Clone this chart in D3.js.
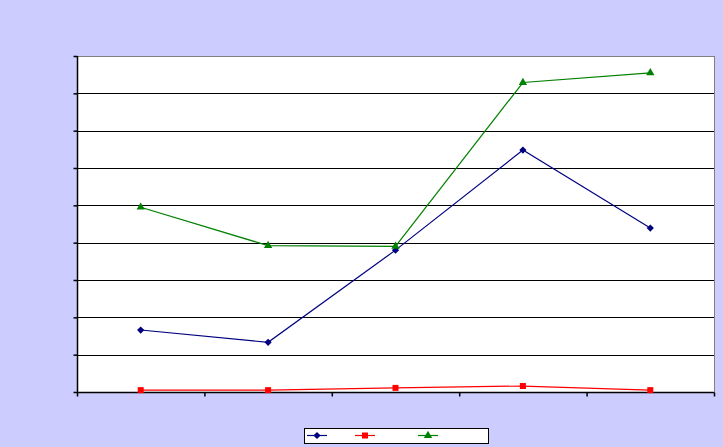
<!DOCTYPE html>
<html>
<head>
<meta charset="utf-8">
<script src="https://cdn.jsdelivr.net/npm/d3@7"></script>
<style>
  html, body { margin: 0; padding: 0; background: #CCCCFF; }
  svg { display: block; }
</style>
</head>
<body>
<svg id="chart"></svg>
<script>
// Chart data (no text labels are shown in the reference)
const categories = ["1", "2", "3", "4", "5"];
const seriesBlue = [1.66, 1.33, 3.80, 6.48, 4.39];
const seriesRed = [0.05, 0.05, 0.11, 0.16, 0.05];
const seriesGreen = [4.95, 3.92, 3.90, 8.29, 8.55];
const yTicks = [0, 1, 2, 3, 4, 5, 6, 7, 8, 9];

const width = 723, height = 447;
const plot = { left: 77, top: 56, right: 714, bottom: 392 };

const svg = d3.select("#chart")
    .attr("width", width)
    .attr("height", height);

svg.append("rect")
    .attr("width", width)
    .attr("height", height)
    .attr("fill", "#CCCCFF");

const xScale = d3.scaleLinear()
    .domain([0, categories.length])
    .range([plot.left, plot.right]);

const yScale = d3.scaleLinear()
    .domain([0, 9])
    .range([plot.bottom, plot.top]);

// Plot area
svg.append("rect")
    .attr("x", plot.left)
    .attr("y", plot.top)
    .attr("width", plot.right - plot.left)
    .attr("height", plot.bottom - plot.top)
    .attr("fill", "#FFFFFF")
    .attr("stroke", "#808080")
    .attr("stroke-width", 1)
    .attr("shape-rendering", "crispEdges");

// Gridlines
svg.append("g")
    .selectAll("line")
    .data(yTicks.filter(t => t > 0 && t < 9))
    .join("line")
    .attr("x1", plot.left)
    .attr("x2", plot.right)
    .attr("y1", d => Math.round(yScale(d)) + 0.5)
    .attr("y2", d => Math.round(yScale(d)) + 0.5)
    .attr("stroke", "#000")
    .attr("stroke-width", 1);

// Axes
const yAxis = d3.axisLeft(yScale)
    .tickValues(yTicks)
    .tickSize(4)
    .tickFormat("");
const yG = svg.append("g")
    .attr("transform", `translate(${plot.left + 0.5},0)`)
    .call(yAxis);

const xAxis = d3.axisBottom(xScale)
    .tickValues(d3.range(categories.length + 1))
    .tickSize(4)
    .tickFormat("");
const xG = svg.append("g")
    .attr("transform", `translate(0,${plot.bottom + 0.5})`)
    .call(xAxis);

[yG, xG].forEach(g => {
    g.selectAll("path, line").attr("stroke", "#000").attr("stroke-width", 1.5);
    g.select(".domain").attr("d", g === yG
        ? `M0,${plot.top}V${plot.bottom}`
        : `M${plot.left},0H${plot.right}`);
});

// Series (diamond = square turned 45 degrees)
const series = [
    { name: "blue", values: seriesBlue, color: "#000080", symbol: d3.symbolSquare, size: 26, rotate: 45 },
    { name: "red", values: seriesRed, color: "#FF0000", symbol: d3.symbolSquare, size: 36, rotate: 0 },
    { name: "green", values: seriesGreen, color: "#008000", symbol: d3.symbolTriangle, size: 30, rotate: 0 }
];

const line = d3.line()
    .x((d, i) => xScale(i + 0.5))
    .y(d => yScale(d));

series.forEach(s => {
    svg.append("path")
        .datum(s.values)
        .attr("fill", "none")
        .attr("stroke", s.color)
        .attr("stroke-width", 1.2)
        .attr("d", line);

    svg.append("g")
        .selectAll("path")
        .data(s.values)
        .join("path")
        .attr("transform", (d, i) => `translate(${xScale(i + 0.5)},${yScale(d)}) rotate(${s.rotate})`)
        .attr("d", d3.symbol().type(s.symbol).size(s.size))
        .attr("fill", s.color);
});

// Legend
const legend = svg.append("g");
legend.append("rect")
    .attr("x", 304.5)
    .attr("y", 428.5)
    .attr("width", 184)
    .attr("height", 15)
    .attr("fill", "#FFFFFF")
    .attr("stroke", "#000")
    .attr("stroke-width", 1);

const legendX = [317, 365, 428];
series.forEach((s, i) => {
    const cx = legendX[i];
    legend.append("line")
        .attr("x1", cx - 10)
        .attr("x2", cx + 10)
        .attr("y1", 435.5)
        .attr("y2", 435.5)
        .attr("stroke", s.color)
        .attr("stroke-width", 1.2);
    legend.append("path")
        .attr("transform", `translate(${cx},435.5) rotate(${s.rotate})`)
        .attr("d", d3.symbol().type(s.symbol).size(s.size))
        .attr("fill", s.color);
});
</script>
</body>
</html>
